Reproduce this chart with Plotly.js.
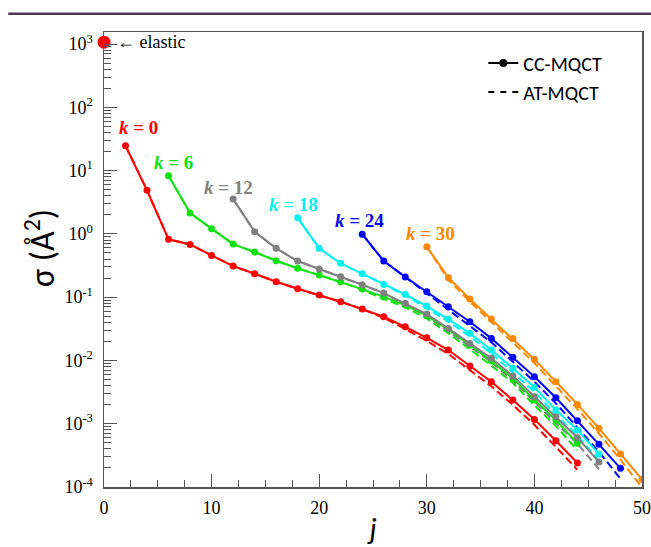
<!DOCTYPE html>
<html>
<head>
<meta charset="utf-8">
<script src="https://cdn.plot.ly/plotly-3.0.1.min.js"></script>
<style>
html,body{margin:0;padding:0;background:#fff;}
#chart{width:651px;height:547px;}
</style>
</head>
<body>
<div id="chart"></div>
<script>
// ---- data ----
const jElastic = [0];
const sigmaElastic = [1070];

const jK0 = [2,4,6,8,10,12,14,16,18,20,22,24,26,28,30,32,34,36,38,40,42,44];
const ccK0 = [24.7,4.87,0.82,0.68,0.457,0.31,0.234,0.175,0.136,0.108,0.0846,0.0648,0.049,0.034,0.0228,0.0146,0.0082,0.0046,0.00236,0.00117,0.000538,0.000239];
const atK0 = [24.7,4.87,0.82,0.68,0.457,0.31,0.234,0.175,0.136,0.108,0.0846,0.0648,0.047,0.0313,0.0203,0.0127,0.00705,0.0039,0.00198,0.00096,0.00043,0.000186];

const jK6 = [6,8,10,12,14,16,18,20,22,24,26,28,30,32,34,36,38,40,42,44];
const ccK6 = [8.28,2.13,1.21,0.69,0.515,0.376,0.285,0.223,0.175,0.134,0.101,0.075,0.051,0.031,0.0175,0.0098,0.0052,0.00237,0.00114,0.00049];
const atK6 = [8.28,2.13,1.21,0.69,0.515,0.376,0.285,0.223,0.175,0.13,0.096,0.069,0.046,0.027,0.015,0.0083,0.0044,0.00196,0.00092,0.00038];

const jK12 = [12,14,16,18,20,22,24,26,28,30,32,34,36,38,40,42,44,46];
const ccK12 = [3.55,1.08,0.59,0.372,0.278,0.21,0.157,0.116,0.0798,0.054,0.0321,0.0186,0.0108,0.00567,0.00267,0.00129,0.000601,0.000248];
const atK12 = [3.55,1.08,0.59,0.372,0.278,0.21,0.157,0.116,0.076,0.05,0.029,0.0165,0.0094,0.0048,0.00222,0.00105,0.00048,0.000192];

const jK18 = [18,20,22,24,26,28,30,32,34,36,38,40,42,44,46];
const ccK18 = [1.79,0.59,0.342,0.234,0.159,0.111,0.0723,0.045,0.0268,0.0146,0.0075,0.00376,0.00164,0.000794,0.000332];
const atK18 = [1.79,0.59,0.342,0.234,0.159,0.106,0.067,0.041,0.024,0.0129,0.0065,0.0032,0.00137,0.00065,0.00026];

const jK24 = [24,26,28,30,32,34,36,38,40,42,44,46,48];
const ccK24 = [0.99,0.372,0.208,0.1216,0.0705,0.0408,0.0223,0.0112,0.00552,0.00257,0.00111,0.000472,0.000197];
const atK24 = [0.99,0.372,0.208,0.115,0.064,0.036,0.0193,0.0095,0.0046,0.0021,0.00088,0.00036,0.000135];

const jK30 = [30,32,34,36,38,40,42,44,46,48,50];
const ccK30 = [0.625,0.203,0.0933,0.0451,0.0223,0.0104,0.0046,0.00202,0.000845,0.000332,0.000132];
const atK30 = [0.625,0.19,0.085,0.0405,0.0197,0.0091,0.0039,0.0017,0.0007,0.00027,0.000098];

const seriesLabels = ['0','6','12','18','24','30'];
const yTickVals = [1e-4,1e-3,1e-2,1e-1,1,10,100,1000];
const yTickText = ['10<sup>-4</sup>','10<sup>-3</sup>','10<sup>-2</sup>','10<sup>-1</sup>','10<sup>0</sup>','10<sup>1</sup>','10<sup>2</sup>','10<sup>3</sup>'];
const xTickVals = [0,10,20,30,40,50];
const legendNames = ['CC-MQCT','AT-MQCT'];
const yTitle = '\u03c3 (\u00c5<sup>2</sup>)';
const xTitle = '<i>j</i>';

// ---- styling ----
const SERIF = '"Times New Roman", "Liberation Serif", Tinos, serif';
const SANS = 'Carlito, Lato, "Open Sans", sans-serif';
const colors = ['#ff0000','#11e011','#808080','#00f0f0','#0000ff','#ff8800'];
const labelPos = [[3.2,48.7],[6.46,13.6],[11.6,5.38],[17.6,2.9],[23.7,1.62],[30.3,1.03]];
const sets = [
  [jK0,ccK0,atK0],[jK6,ccK6,atK6],[jK12,ccK12,atK12],
  [jK18,ccK18,atK18],[jK24,ccK24,atK24],[jK30,ccK30,atK30]
];

const traces = [];
sets.forEach((s,i)=>{
  traces.push({x:s[0], y:s[2], mode:'lines', type:'scatter', showlegend:false,
    line:{color:colors[i], width:2, dash:'8px,4px'}, hoverinfo:'skip'});
});
sets.forEach((s,i)=>{
  traces.push({x:s[0], y:s[1], mode:'lines+markers', type:'scatter', showlegend:false,
    line:{color:colors[i], width:2}, marker:{color:colors[i], size:7, symbol:'circle'}});
});
traces.push({x:jElastic, y:sigmaElastic, mode:'markers', type:'scatter', showlegend:false,
  marker:{color:'#ff0000', size:13}, cliponaxis:false});
// legend entries
traces.push({x:[null], y:[null], name:legendNames[0], mode:'lines+markers', type:'scatter',
  line:{color:'#000', width:2}, marker:{color:'#000', size:8}});
traces.push({x:[null], y:[null], name:legendNames[1], mode:'lines', type:'scatter',
  line:{color:'#000', width:2, dash:'6px,6px'}});

const annotations = seriesLabels.map((k,i)=>({
  x:labelPos[i][0], y:Math.log10(labelPos[i][1]), xref:'x', yref:'y',
  text:'<b><i>k</i> = '+k+'</b>', showarrow:false,
  font:{family:SERIF, size:19, color:colors[i]},
  xanchor:'center', yanchor:'middle'
}));
annotations.push({x:1.0, y:Math.log10(sigmaElastic[0]), xref:'x', yref:'y',
  text:'\u2190 elastic', showarrow:false, xanchor:'left', yanchor:'middle',
  font:{family:SERIF, size:18, color:'#000'}});
annotations.push({x:-0.119, y:0.525, xref:'paper', yref:'paper', text:yTitle,
  textangle:-90, showarrow:false, xanchor:'center', yanchor:'middle',
  font:{family:SANS, size:34, color:'#000'}});

const layout = {
  width:651, height:547,
  margin:{l:104, r:9, t:32, b:60},
  paper_bgcolor:'#fff', plot_bgcolor:'#fff',
  showlegend:true,
  legend:{x:0.705, y:0.975, xanchor:'left', yanchor:'top', bgcolor:'rgba(0,0,0,0)',
    font:{family:SANS, size:20, color:'#000'},
    itemwidth:30, tracegroupgap:0},
  xaxis:{range:[0,50], showgrid:false, zeroline:false, showline:true, mirror:true,
    linecolor:'#555', linewidth:1.5,
    ticks:'inside', ticklen:13, tickcolor:'#555', tickwidth:1,
    tickvals:xTickVals, ticktext:xTickVals.map(String),
    tickfont:{family:SERIF, size:18, color:'#000'},
    ticklabelstandoff:4,
    minor:{ticks:'inside', ticklen:7, dtick:2.5, tick0:0, tickcolor:'#555', showgrid:false},
    title:{text:xTitle, font:{family:SANS, size:30, color:'#000'}, standoff:4}},
  yaxis:{type:'log', range:[-4,3.19], showgrid:false, zeroline:false, showline:true, mirror:true,
    linecolor:'#555', linewidth:1.5,
    ticks:'inside', ticklen:13, tickcolor:'#555', tickwidth:1,
    tickvals:yTickVals, ticktext:yTickText,
    tickfont:{family:SERIF, size:18, color:'#000'},
    ticklabelstandoff:6,
    minor:{ticks:'inside', ticklen:7, dtick:'D1', tickcolor:'#555', showgrid:false}},
  annotations:annotations,
  shapes:[{type:'line', xref:'paper', yref:'paper', x0:-0.178, x1:1.02, y0:1.04, y1:1.04,
    line:{color:'#4b3852', width:2.5}}]
};

Plotly.newPlot('chart', traces, layout, {displayModeBar:false, staticPlot:true});
</script>
</body>
</html>
